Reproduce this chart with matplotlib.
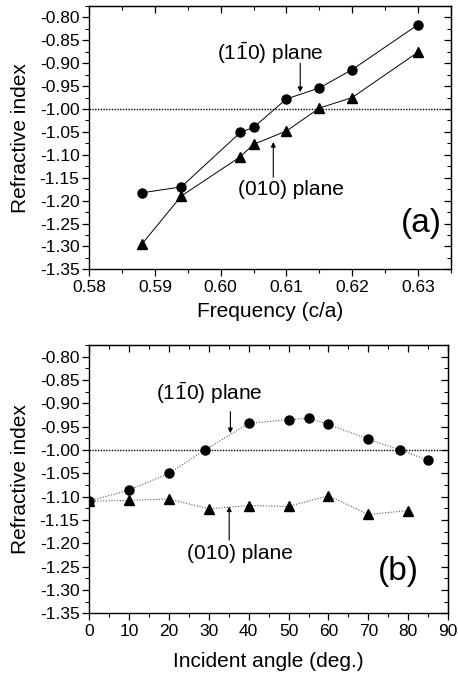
import matplotlib
matplotlib.use("Agg")
import matplotlib.pyplot as plt
from matplotlib.ticker import MultipleLocator, FormatStrFormatter

plt.rcParams['font.family'] = ['Liberation Sans', 'DejaVu Sans']
plt.rcParams['mathtext.fontset'] = 'custom'
plt.rcParams['mathtext.rm'] = 'Liberation Sans'
plt.rcParams['axes.unicode_minus'] = False

# ---- data panel (a) ----
freq_110 = [0.588, 0.594, 0.603, 0.605, 0.610, 0.615, 0.620, 0.630]
n_110_a = [-1.183, -1.170, -1.051, -1.040, -0.978, -0.954, -0.914, -0.816]
freq_010 = [0.588, 0.594, 0.603, 0.605, 0.610, 0.615, 0.620, 0.630]
n_010_a = [-1.295, -1.190, -1.104, -1.077, -1.048, -0.998, -0.975, -0.876]

# ---- data panel (b) ----
ang_110 = [0, 10, 20, 29, 40, 50, 55, 60, 70, 78, 85]
n_110_b = [-1.109, -1.086, -1.050, -1.000, -0.943, -0.935, -0.932, -0.945, -0.977, -1.000, -1.022]
ang_010 = [0, 10, 20, 30, 40, 50, 60, 70, 80]
n_010_b = [-1.110, -1.108, -1.105, -1.126, -1.119, -1.121, -1.098, -1.138, -1.130]

label_110 = r'(1$\bar{\mathrm{1}}$0) plane'
label_010 = '(010) plane'

W, H = 458, 677
fig = plt.figure(figsize=(W / 100, H / 100), dpi=100)

def px_axes(left, top, right, bottom):
    return fig.add_axes([left / W, 1 - bottom / H, (right - left) / W, (bottom - top) / H])

def style(ax, xmaj, xmin, xfmt):
    ax.yaxis.set_major_locator(MultipleLocator(0.05))
    ax.yaxis.set_minor_locator(MultipleLocator(0.025))
    ax.yaxis.set_major_formatter(FormatStrFormatter('%.2f'))
    ax.xaxis.set_major_locator(MultipleLocator(xmaj))
    ax.xaxis.set_minor_locator(MultipleLocator(xmin))
    ax.xaxis.set_major_formatter(FormatStrFormatter(xfmt))
    ax.tick_params(which='major', direction='out', length=5, width=0.9, labelsize=12.5, pad=2)
    ax.tick_params(axis='x', which='major', pad=3)
    ax.tick_params(which='minor', direction='out', length=3, width=0.8)
    for s in ax.spines.values():
        s.set_linewidth(1.0)
    sx = ax.secondary_xaxis('top')
    sx.xaxis.set_major_locator(MultipleLocator(xmaj))
    sx.xaxis.set_minor_locator(MultipleLocator(xmin))
    sx.tick_params(which='major', direction='in', length=5, width=0.9, labeltop=False)
    sx.tick_params(which='minor', direction='in', length=3, width=0.8)
    sy = ax.secondary_yaxis('right')
    sy.yaxis.set_major_locator(MultipleLocator(0.05))
    sy.yaxis.set_minor_locator(MultipleLocator(0.025))
    sy.tick_params(which='major', direction='in', length=5, width=0.9, labelright=False)
    sy.tick_params(which='minor', direction='in', length=3, width=0.8)
    ax.axhline(-1.0, color='k', ls=(0, (1, 1)), lw=1.0, zorder=1)

arrow = dict(arrowstyle='-|>', lw=0.8, color='k', mutation_scale=7, shrinkA=0, shrinkB=0)

# ---- panel (a) ----
ax1 = px_axes(89.3, 6, 450.7, 269.3)
ax1.plot(freq_110, n_110_a, '-', color='k', lw=0.7, marker='o', ms=6.5, zorder=3)
ax1.plot(freq_010, n_010_a, '-', color='k', lw=0.7, marker='^', ms=7.5, zorder=3)
ax1.set_xlim(0.58, 0.635)
ax1.set_ylim(-1.35, -0.775)
style(ax1, 0.01, 0.005, '%.2f')
ax1.set_xlabel('Frequency (c/a)', fontsize=15, labelpad=5)
ax1.set_ylabel('Refractive index', fontsize=15, labelpad=7)
ax1.text(0.6075, -0.878, label_110, fontsize=15, ha='center', va='center')
ax1.annotate('', xy=(0.6121, -0.963), xytext=(0.6121, -0.900), arrowprops=arrow)
ax1.text(0.6107, -1.175, label_010, fontsize=15, ha='center', va='center')
ax1.annotate('', xy=(0.608, -1.072), xytext=(0.608, -1.149), arrowprops=arrow)
ax1.text(0.6305, -1.25, '(a)', fontsize=24, ha='center', va='center')

# ---- panel (b) ----
ax2 = px_axes(89.3, 345, 448, 613.3)
dots = (0, (1, 1.5))
ax2.plot(ang_110, n_110_b, color='0.35', ls=dots, lw=0.8, marker='o', ms=6.5,
         mfc='k', mec='k', zorder=3)
ax2.plot(ang_010, n_010_b, color='0.35', ls=dots, lw=0.8, marker='^', ms=7.5,
         mfc='k', mec='k', zorder=3)
ax2.set_xlim(0, 90)
ax2.set_ylim(-1.35, -0.775)
style(ax2, 10, 5, '%d')
ax2.set_xlabel('Incident angle (deg.)', fontsize=15, labelpad=9)
ax2.set_ylabel('Refractive index', fontsize=15, labelpad=7)
ax2.text(30.1, -0.877, label_110, fontsize=15, ha='center', va='center')
ax2.annotate('', xy=(35.4, -0.964), xytext=(35.4, -0.918), arrowprops=arrow)
ax2.text(37.8, -1.221, label_010, fontsize=15, ha='center', va='center')
ax2.annotate('', xy=(35.1, -1.121), xytext=(35.1, -1.193), arrowprops=arrow)
ax2.text(77.5, -1.26, '(b)', fontsize=24, ha='center', va='center')

fig.savefig('out.png', dpi=100)
